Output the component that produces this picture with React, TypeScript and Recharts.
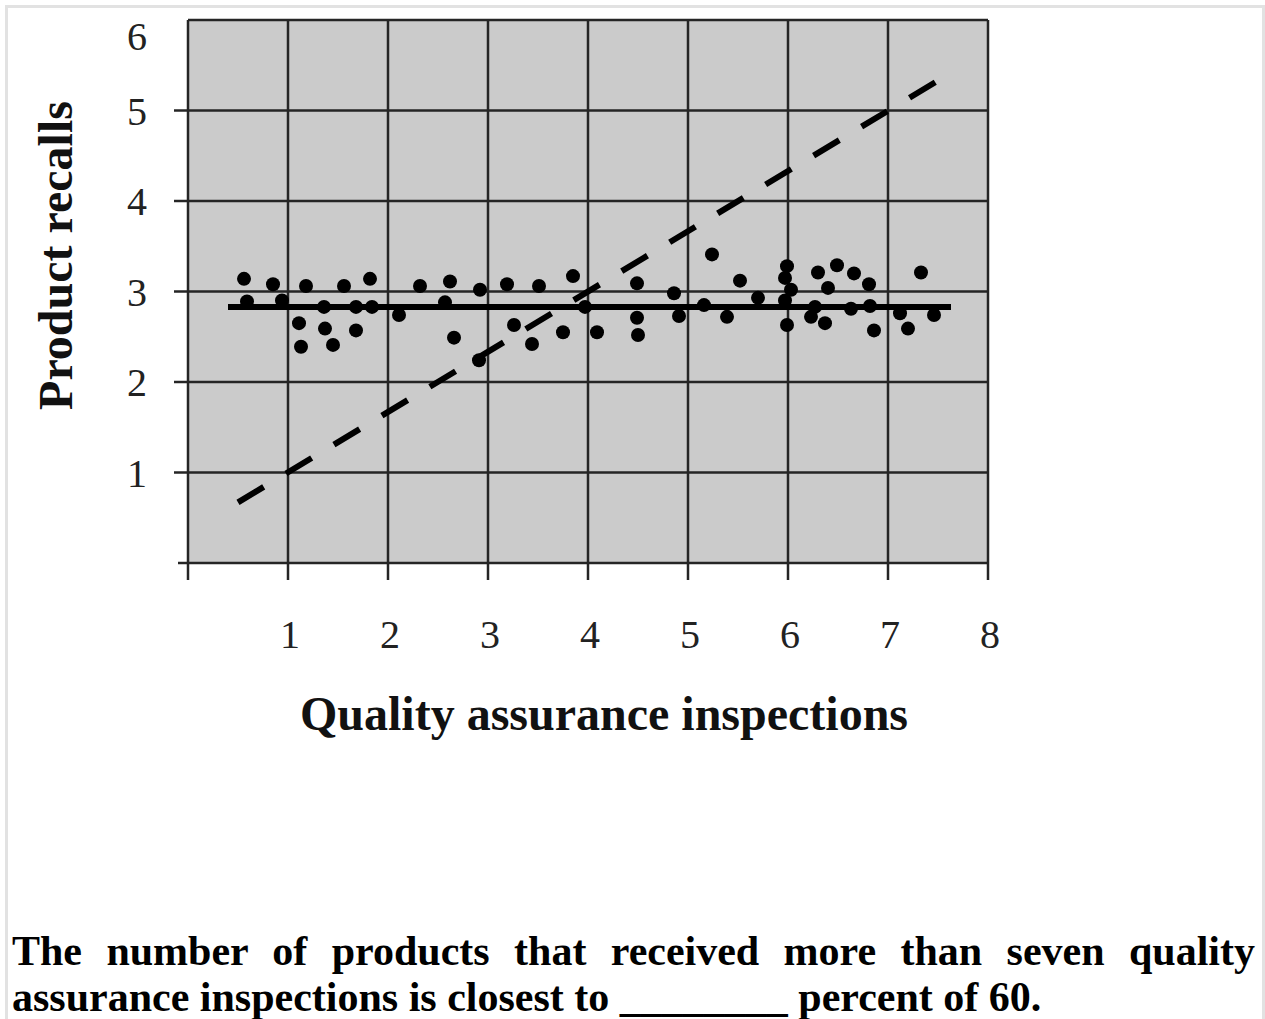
import React from "react";
import { ScatterChart, Scatter, XAxis, YAxis, CartesianGrid, ReferenceLine } from "recharts";

// inspections per product (x) and recalls (y), one entry per product
const inspections = [
  0.56, 0.85, 0.59, 0.94, 1.18, 1.11, 1.13, 1.36, 1.37, 1.45,
  1.56, 1.68, 1.68, 1.82, 1.84, 2.11, 2.32, 2.62, 2.57, 2.66,
  2.92, 2.91, 3.19, 3.26, 3.51, 3.44, 3.75, 3.85, 3.97, 4.09,
  4.49, 4.49, 4.5, 4.86, 4.91, 5.24, 5.16, 5.39, 5.52, 5.7,
  5.99, 5.97, 6.03, 5.97, 5.99, 6.3, 6.4, 6.27, 6.23, 6.37,
  6.49, 6.66, 6.63, 6.81, 6.82, 6.86, 7.12, 7.2, 7.33, 7.46,
];
const recalls = [
  3.14, 3.08, 2.89, 2.9, 3.06, 2.65, 2.39, 2.83, 2.59, 2.41,
  3.06, 2.83, 2.57, 3.14, 2.83, 2.74, 3.06, 3.11, 2.88, 2.49,
  3.02, 2.24, 3.08, 2.63, 3.06, 2.42, 2.55, 3.17, 2.83, 2.55,
  3.09, 2.71, 2.52, 2.98, 2.73, 3.41, 2.85, 2.72, 3.12, 2.93,
  3.28, 3.15, 3.02, 2.9, 2.63, 3.21, 3.04, 2.83, 2.72, 2.65,
  3.29, 3.2, 2.81, 3.08, 2.84, 2.57, 2.76, 2.59, 3.21, 2.74,
];

// flat best-fit line and the dashed y = (2x + 1) / 3 guide
const fitStart = { x: 0.4, y: 2.83 };
const fitEnd = { x: 7.63, y: 2.83 };
const guideStart = { x: 0.5, y: 0.67 };
const guideEnd = { x: 7.5, y: 5.33 };

const xTicks = [0, 1, 2, 3, 4, 5, 6, 7, 8];
const yTicks = [0, 1, 2, 3, 4, 5, 6];

const points = inspections.map((x, i) => ({ x, y: recalls[i] }));

const SERIF = "'Liberation Serif', 'Times New Roman', serif";
const GRID = "#252525";

const XTick = (props: any) => {
  const { x, y, payload } = props;
  const v = payload.value;
  return (
    <g>
      <line x1={x} x2={x} y1={y} y2={y + 17} stroke={GRID} strokeWidth={2.5} />
      {v === 0 && <line x1={x - 10} x2={x} y1={y} y2={y} stroke={GRID} strokeWidth={2.5} />}
      {v > 0 && (
        <text x={x + 2} y={y + 85} textAnchor="middle" fontFamily={SERIF} fontSize={40} fill="#222">
          {v}
        </text>
      )}
    </g>
  );
};

const YTick = (props: any) => {
  const { x, y, payload } = props;
  const v = payload.value;
  return (
    <g>
      {v > 0 && v < 6 && <line x1={x - 14} x2={x} y1={y} y2={y} stroke={GRID} strokeWidth={2.5} />}
      {v > 0 && (
        <text x={x - 51} y={y + (v === 6 ? 16 : 0) + 14} textAnchor="middle" fontFamily={SERIF} fontSize={40} fill="#222">
          {v}
        </text>
      )}
    </g>
  );
};

const Dot = (props: any) => <circle cx={props.cx} cy={props.cy} r={7} fill="#000" />;

const XTitle = (props: any) => {
  const vb = props.viewBox || { x: 188, y: 563, width: 800 };
  return (
    <text x={vb.x + vb.width / 2 + 16} y={vb.y + 167} textAnchor="middle" fontFamily={SERIF} fontWeight="bold" fontSize={48} fill="#111">
      Quality assurance inspections
    </text>
  );
};

const YTitle = (props: any) => {
  const vb = props.viewBox || { x: 0, y: 20, height: 543 };
  const cx = vb.x + 72;
  const cy = vb.y + vb.height / 2 - 36;
  return (
    <text x={cx} y={cy} transform={`rotate(-90 ${cx} ${cy})`} textAnchor="middle" fontFamily={SERIF} fontWeight="bold" fontSize={48} fill="#111">
      Product recalls
    </text>
  );
};

export default function App() {
  return (
    <div style={{ position: "absolute", left: 0, top: 0, width: 1265, height: 1019, background: "#fff", overflow: "hidden" }}>
      <div
        style={{
          position: "absolute",
          left: 5,
          top: 5,
          width: 1260,
          height: 1014,
          boxSizing: "border-box",
          borderTop: "3px solid #e2e2e2",
          borderLeft: "3px solid #e2e2e2",
          borderRight: "3px solid #e2e2e2",
        }}
      />
      <div style={{ position: "absolute", left: 0, top: 0 }}>
        <ScatterChart width={1265} height={760} margin={{ top: 20, right: 277, bottom: 0, left: 0 }}>
          <CartesianGrid stroke={GRID} strokeWidth={2.5} fill="#cbcbcb" fillOpacity={1} />
          <XAxis
            type="number"
            dataKey="x"
            domain={[0, 8]}
            ticks={xTicks}
            interval={0}
            height={197}
            axisLine={false}
            tickLine={false}
            tickSize={0}
            tickMargin={0}
            tick={<XTick />}
            label={XTitle}
          />
          <YAxis
            type="number"
            dataKey="y"
            domain={[0, 6]}
            ticks={yTicks}
            interval={0}
            width={188}
            axisLine={false}
            tickLine={false}
            tickSize={0}
            tickMargin={0}
            tick={<YTick />}
            label={YTitle}
          />
          <ReferenceLine segment={[guideStart, guideEnd]} stroke="#000" strokeWidth={6} strokeDasharray="30 26" />
          <ReferenceLine segment={[fitStart, fitEnd]} stroke="#000" strokeWidth={6} />
          <Scatter data={points} shape={Dot} isAnimationActive={false} />
        </ScatterChart>
      </div>
      <div
        style={{
          position: "absolute",
          left: 12,
          top: 928,
          width: 1243,
          fontFamily: SERIF,
          fontWeight: "bold",
          fontSize: 42,
          lineHeight: "46px",
          textAlign: "justify",
          color: "#000",
        }}
      >
        The number of products that received more than seven quality assurance inspections is closest to ________ percent of 60.
      </div>
    </div>
  );
}
